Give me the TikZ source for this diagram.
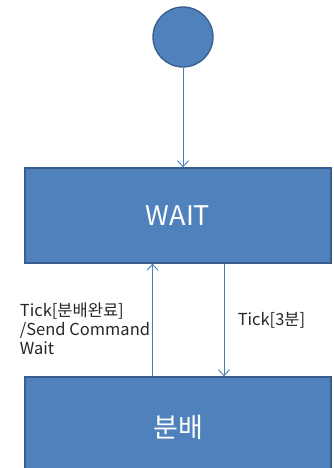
\documentclass[tikz,border=0pt]{standalone}
\usepackage{fontspec}
\setmainfont{Noto Sans CJK KR}
\usetikzlibrary{arrows.meta,positioning}
\definecolor{boxblue}{HTML}{4F81BD}
\definecolor{boxline}{HTML}{385D8A}
\definecolor{wire}{HTML}{4A7EBB}

\begin{document}
\begin{tikzpicture}[x=1pt, y=-1pt, on grid, >={Straight Barb[length=6pt,width=11pt]},
	start/.style={circle, draw=boxline, fill=boxblue, line width=1.3pt, minimum size=60pt},
	state/.style={rectangle, draw=boxline, fill=boxblue, line width=1.3pt, text=white, minimum width=306pt, minimum height=95pt, font=\fontsize{27}{30}\selectfont},
	guard/.style={text=black!85, align=left, font=\fontsize{16.5}{19}\selectfont}]
	\useasboundingbox (0,0) rectangle (333,468);

	\node[start] (0) at (183,37) {};
	\node[state] (1) at (178,215.5) {WAIT};
	\node[state, minimum height=100pt] (2) [below=211.5pt of 1] {분배};

	\path[->, wire, line width=0.9pt]
		(0) edge (0 |- 1.north)
		([xshift=-25.5pt]2.north) edge node[left, pos=0.42, inner sep=2pt, guard] {Tick[분배완료]\\/Send Command\\Wait} ([xshift=-25.5pt]1.south)
		([xshift=46pt]1.south) edge node[right=10pt, guard] {Tick[3분]} ([xshift=46pt]2.north);
\end{tikzpicture}
\end{document}
